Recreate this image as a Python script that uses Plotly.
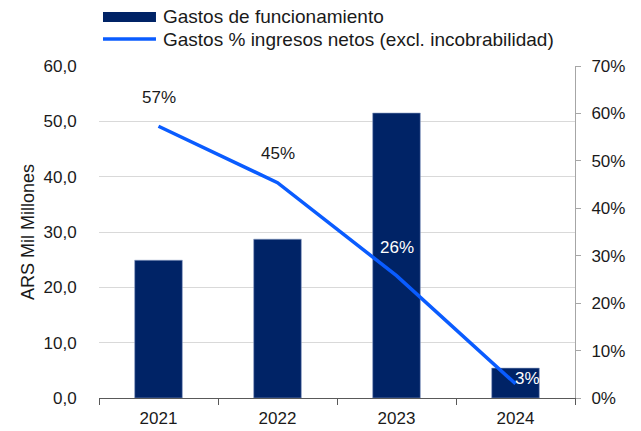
import plotly.graph_objects as go

# Datos
anios = ["2021", "2022", "2023", "2024"]
gastos = [24.9, 28.7, 51.5, 5.4]          # ARS Mil Millones
pct_ingresos = [57.3, 45.4, 25.8, 3.0]    # % ingresos netos
etiquetas_pct = ["57%", "45%", "26%", "3%"]
y_ticks = [0, 10, 20, 30, 40, 50, 60]
y_textos = ["0,0", "10,0", "20,0", "30,0", "40,0", "50,0", "60,0"]
y2_ticks = [0, 10, 20, 30, 40, 50, 60, 70]
y2_textos = ["0%", "10%", "20%", "30%", "40%", "50%", "60%", "70%"]

nombre_barras = "Gastos de funcionamiento"
nombre_linea = "Gastos % ingresos netos (excl. incobrabilidad)"

color_barras = "#002366"
color_linea = "#0a5cff"
fuente = "Liberation Sans, Arial, sans-serif"

fig = go.Figure()

fig.add_trace(go.Bar(
    x=anios, y=gastos, name=nombre_barras,
    marker=dict(color=color_barras, line=dict(color="#8a9cc4", width=0.6)),
    showlegend=False, yaxis="y"
))
fig.add_trace(go.Scatter(
    x=anios, y=pct_ingresos, name=nombre_linea, mode="lines",
    line=dict(color=color_linea, width=3.5),
    showlegend=False, yaxis="y2"
))

# etiquetas de la linea (negras fuera de las barras, blancas dentro)
# en eje categórico los años numéricos se leerían como índice: se usa la posición
colores_txt = ["#1a1a1a", "#1a1a1a", "white", "white"]
desplaz = [(0, 29), (0, 29), (0, 28), (12, 5)]
for i, (v, t, c, (dx, dy)) in enumerate(zip(pct_ingresos, etiquetas_pct, colores_txt, desplaz)):
    fig.add_annotation(x=i, y=v, xref="x", yref="y2", text=t, showarrow=False,
                       xshift=dx, yshift=dy,
                       font=dict(size=17, color=c, family=fuente))

# leyenda manual (simbolos anchos como en el original)
fig.add_shape(type="rect", xref="paper", yref="paper",
              x0=0.0084, x1=0.1197, y0=1.1325, y1=1.1627,
              fillcolor=color_barras, line=dict(width=0))
fig.add_shape(type="line", xref="paper", yref="paper",
              x0=0.0084, x1=0.1197, y0=1.0813, y1=1.0813,
              line=dict(color=color_linea, width=3.5))
fig.add_annotation(xref="paper", yref="paper", x=0.1303, y=1.1476,
                   xanchor="left", yanchor="middle", showarrow=False,
                   text=nombre_barras, font=dict(size=19, color="#1a1a1a", family=fuente))
fig.add_annotation(xref="paper", yref="paper", x=0.1303, y=1.0813,
                   xanchor="left", yanchor="middle", showarrow=False,
                   text=nombre_linea, font=dict(size=19, color="#1a1a1a", family=fuente))

# la página deja 8 px de margen: la figura se reduce para caber en la ventana
fig.update_layout(
    width=633, height=423,
    margin=dict(l=91, r=66, t=58, b=33),
    plot_bgcolor="white", paper_bgcolor="white",
    bargap=0.6,
    font=dict(family=fuente, size=17, color="#1a1a1a"),
    xaxis=dict(
        type="category", range=[-0.5, len(anios) - 0.5], automargin=False,
        showline=True, linecolor="#595959", linewidth=1,
        ticks="outside", ticklen=6, tickcolor="#595959",
        tickson="boundaries", showgrid=False,
        ticklabelstandoff=5,
        tickfont=dict(size=17),
    ),
    yaxis=dict(
        range=[0, 60], tickvals=y_ticks, ticktext=y_textos, automargin=False,
        showgrid=True, gridcolor="#d9d9d9", gridwidth=1,
        zeroline=False, showline=False,
        ticks="outside", ticklen=18, tickcolor="rgba(0,0,0,0)",
        title=dict(text="ARS Mil Millones", font=dict(size=18), standoff=4),
    ),
    yaxis2=dict(
        range=[0, 70], tickvals=y2_ticks, ticktext=y2_textos, automargin=False,
        overlaying="y", side="right", showgrid=False, zeroline=False,
        showline=True, linecolor="#a6a6a6", linewidth=1,
        ticks="outside", ticklen=5, tickcolor="#a6a6a6",
        ticklabelstandoff=7,
    ),
)

fig.write_html("out.html")
